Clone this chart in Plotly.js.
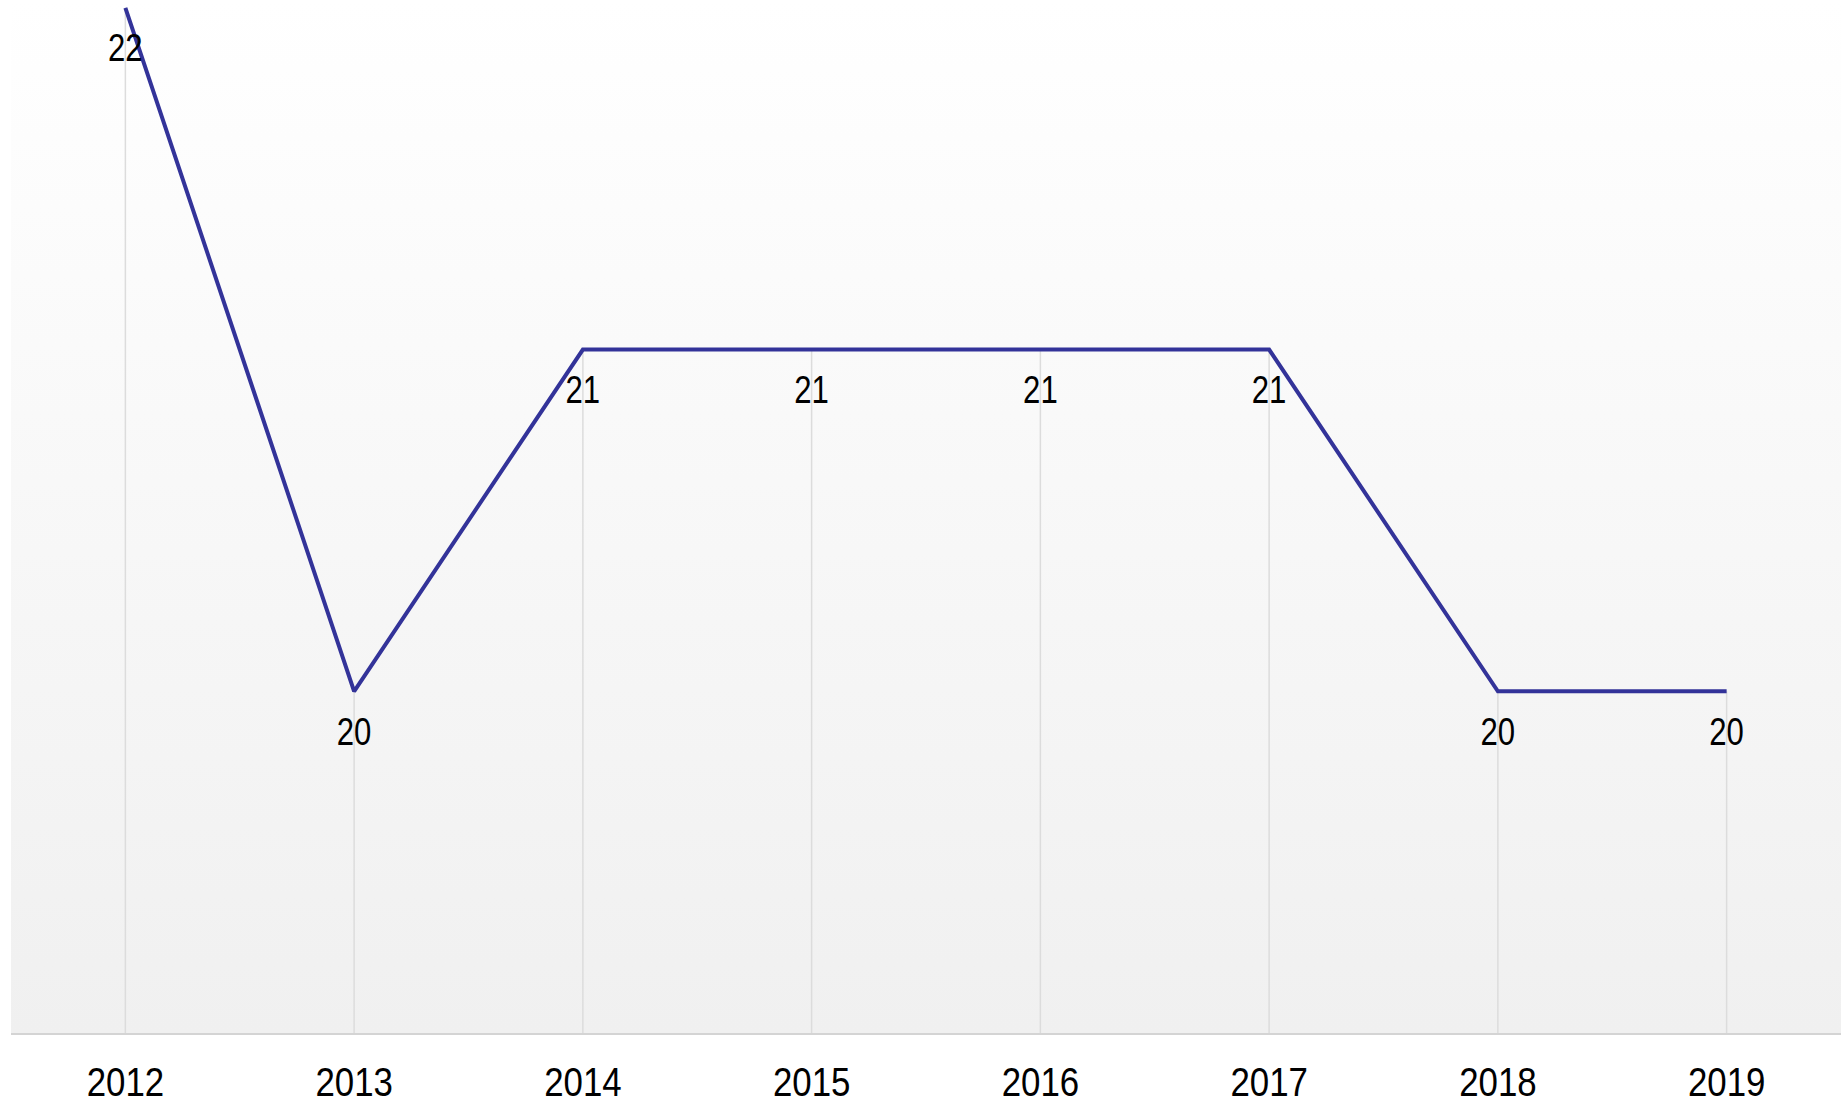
<!DOCTYPE html>
<html>
<head>
<meta charset="utf-8">
<script src="https://cdn.plot.ly/plotly-3.0.1.min.js"></script>
<style>
  html, body { margin: 0; padding: 0; background: #fff; }
  #chart {
    width: 1844px; height: 1106px;
    background: linear-gradient(to bottom, #ffffff 0%, #f0f0f0 100%) no-repeat 11px 0 / 1830px 1033px, #ffffff;
  }
</style>
</head>
<body>
<div id="chart"></div>
<script>
const years = ['2012', '2013', '2014', '2015', '2016', '2017', '2018', '2019'];
const values = [22, 20, 21, 21, 21, 21, 20, 20];
const valueLabels = ['22', '20', '21', '21', '21', '21', '20', '20'];
const yMin = 19;

const FONT = '"Liberation Sans Narrow", "Arial Narrow", "Liberation Sans", Arial, sans-serif';

// drop lines from each point to the axis
const dropLines = {
  x: years,
  y: values,
  type: 'scatter',
  mode: 'markers',
  marker: { size: 1, opacity: 0 },
  error_y: {
    type: 'data',
    symmetric: false,
    array: values.map(() => 0),
    arrayminus: values.map(v => v - yMin),
    color: '#dcdcdc',
    thickness: 1.5,
    width: 0
  },
  hoverinfo: 'skip',
  cliponaxis: false
};

const line = {
  x: years,
  y: values,
  type: 'scatter',
  mode: 'lines',
  line: { color: '#333399', width: 4 },
  hoverinfo: 'skip',
  cliponaxis: false
};

const labels = {
  x: years,
  y: values,
  type: 'scatter',
  mode: 'markers+text',
  marker: { size: 38, opacity: 0 },
  text: valueLabels,
  textposition: 'bottom center',
  textfont: { family: FONT, size: 38, color: '#000000' },
  hoverinfo: 'skip',
  cliponaxis: false
};

const layout = {
  width: 1844,
  height: 1106,
  margin: { l: 11, r: 3, t: 0, b: 73, pad: 0 },
  paper_bgcolor: 'rgba(0,0,0,0)',
  plot_bgcolor: 'rgba(0,0,0,0)',
  showlegend: false,
  xaxis: {
    type: 'category',
    range: [-0.5, 7.5],
    showgrid: false,
    showline: true,
    linecolor: '#d4d4d4',
    linewidth: 2,
    ticks: '',
    ticklabelstandoff: 12,
    zeroline: false,
    tickfont: { family: FONT, size: 41, color: '#000000' },
    fixedrange: true
  },
  yaxis: {
    range: [yMin, 22.023],
    showgrid: false,
    zeroline: false,
    showline: false,
    showticklabels: false,
    ticks: '',
    fixedrange: true
  }
};

function condense(el, k) {
  const b = el.getBBox();
  const cx = b.x + b.width / 2;
  const cy = b.y + b.height / 2;
  const tr = el.getAttribute('transform') || '';
  el.setAttribute('transform', tr + ' translate(' + cx + ',' + cy + ') scale(' + k + ',1) translate(' + (-cx) + ',' + (-cy) + ')');
}

Plotly.newPlot('chart', [dropLines, line, labels], layout, { staticPlot: true, displayModeBar: false }).then(gd => {
  // narrow the glyphs horizontally to mimic the condensed face of the original
  gd.querySelectorAll('.xtick text').forEach(t => condense(t, 0.85));
  gd.querySelectorAll('.textpoint text').forEach(t => condense(t, 0.82));
});
</script>
</body>
</html>
